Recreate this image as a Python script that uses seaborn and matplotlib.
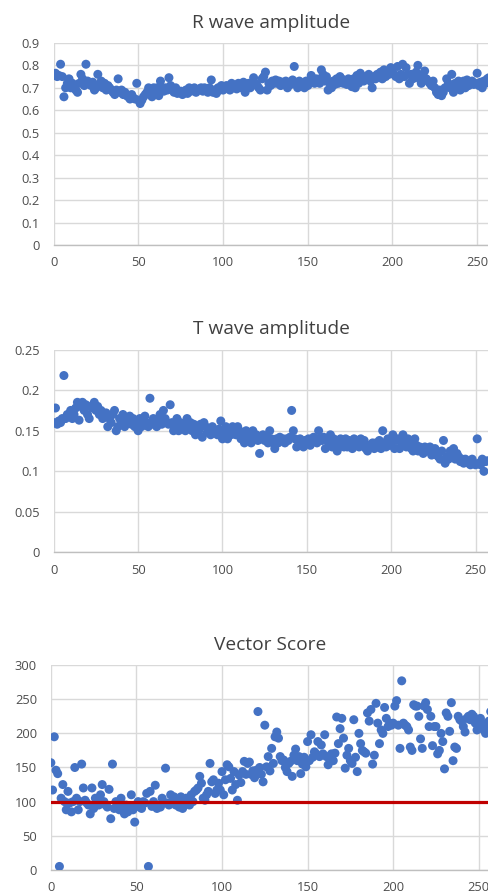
import seaborn as sns
import matplotlib.pyplot as plt
import matplotlib.ticker as mticker
import pandas as pd
import numpy as np

# Broj otkucaja (x os)
beats = np.arange(0, 258)

# R wave amplitude
r_wave = [
    0.76, 0.765, 0.75, 0.755, 0.805, 0.75, 0.66, 0.70, 0.72, 0.74,
    0.70, 0.72, 0.71, 0.69, 0.68, 0.72, 0.76, 0.74, 0.71, 0.805,
    0.73, 0.72, 0.71, 0.725, 0.69, 0.70, 0.76, 0.71, 0.73, 0.70,
    0.72, 0.69, 0.71, 0.70, 0.69, 0.68, 0.67, 0.69, 0.74, 0.68,
    0.69, 0.67, 0.68, 0.665, 0.66, 0.65, 0.67, 0.655, 0.65, 0.72,
    0.645, 0.63, 0.645, 0.66, 0.67, 0.68, 0.70, 0.69, 0.66, 0.70,
    0.68, 0.70, 0.665, 0.73, 0.70, 0.685, 0.70, 0.69, 0.745, 0.71,
    0.69, 0.68, 0.70, 0.675, 0.68, 0.685, 0.67, 0.68, 0.69, 0.675,
    0.70, 0.685, 0.69, 0.70, 0.68, 0.69, 0.695, 0.70, 0.685, 0.70,
    0.69, 0.68, 0.70, 0.735, 0.68, 0.69, 0.675, 0.70, 0.69, 0.71,
    0.69, 0.70, 0.71, 0.705, 0.69, 0.72, 0.70, 0.71, 0.695, 0.72,
    0.71, 0.70, 0.725, 0.68, 0.71, 0.72, 0.70, 0.715, 0.745, 0.72,
    0.71, 0.70, 0.69, 0.74, 0.75, 0.77, 0.69, 0.72, 0.71, 0.73,
    0.72, 0.735, 0.72, 0.73, 0.71, 0.725, 0.72, 0.73, 0.70, 0.72,
    0.715, 0.735, 0.795, 0.72, 0.70, 0.73, 0.71, 0.72, 0.70, 0.73,
    0.71, 0.72, 0.755, 0.73, 0.72, 0.74, 0.735, 0.72, 0.78, 0.76,
    0.73, 0.75, 0.69, 0.72, 0.70, 0.73, 0.715, 0.74, 0.72, 0.75,
    0.74, 0.72, 0.73, 0.715, 0.74, 0.72, 0.705, 0.74, 0.70, 0.755,
    0.72, 0.765, 0.74, 0.73, 0.75, 0.74, 0.76, 0.73, 0.70, 0.75,
    0.74, 0.76, 0.75, 0.77, 0.74, 0.78, 0.75, 0.765, 0.76, 0.79,
    0.77, 0.76, 0.75, 0.795, 0.74, 0.76, 0.805, 0.75, 0.79, 0.76,
    0.72, 0.76, 0.74, 0.75, 0.77, 0.80, 0.74, 0.72, 0.76, 0.775,
    0.74, 0.73, 0.72, 0.71, 0.73, 0.70, 0.68, 0.67, 0.69, 0.665,
    0.68, 0.70, 0.74, 0.72, 0.70, 0.76, 0.68, 0.72, 0.70, 0.73,
    0.69, 0.72, 0.73, 0.70, 0.735, 0.71, 0.72, 0.73, 0.715, 0.72,
    0.765, 0.71, 0.725, 0.70, 0.73, 0.72, 0.74, 0.745,
]

# T wave amplitude
t_wave = [
    0.16, 0.178, 0.158, 0.162, 0.16, 0.165, 0.218, 0.165, 0.17, 0.168,
    0.175, 0.165, 0.17, 0.178, 0.185, 0.163, 0.18, 0.185, 0.175, 0.182,
    0.17, 0.165, 0.18, 0.178, 0.185, 0.175, 0.18, 0.17, 0.175, 0.165,
    0.168, 0.172, 0.155, 0.165, 0.16, 0.17, 0.175, 0.15, 0.155, 0.165,
    0.16, 0.17, 0.155, 0.165, 0.16, 0.168, 0.158, 0.165, 0.155, 0.162,
    0.15, 0.165, 0.155, 0.16, 0.168, 0.16, 0.155, 0.19, 0.158, 0.165,
    0.16, 0.155, 0.162, 0.17, 0.158, 0.175, 0.165, 0.16, 0.158, 0.182,
    0.16, 0.15, 0.155, 0.165, 0.15, 0.16, 0.155, 0.158, 0.15, 0.165,
    0.155, 0.16, 0.15, 0.158, 0.145, 0.155, 0.15, 0.158, 0.142, 0.16,
    0.155, 0.148, 0.152, 0.145, 0.155, 0.148, 0.15, 0.145, 0.152, 0.162,
    0.14, 0.148, 0.155, 0.14, 0.15, 0.145, 0.155, 0.15, 0.145, 0.155,
    0.15, 0.14, 0.145, 0.135, 0.15, 0.14, 0.145, 0.135, 0.15, 0.14,
    0.145, 0.138, 0.122, 0.14, 0.145, 0.138, 0.142, 0.135, 0.15, 0.14,
    0.135, 0.128, 0.14, 0.135, 0.142, 0.138, 0.14, 0.135, 0.14, 0.138,
    0.142, 0.175, 0.15, 0.14, 0.13, 0.138, 0.14, 0.135, 0.13, 0.138,
    0.135, 0.14, 0.132, 0.138, 0.142, 0.14, 0.135, 0.15, 0.14, 0.138,
    0.142, 0.128, 0.14, 0.135, 0.145, 0.13, 0.14, 0.135, 0.125, 0.13,
    0.14, 0.135, 0.13, 0.14, 0.13, 0.138, 0.135, 0.128, 0.14, 0.135,
    0.138, 0.13, 0.14, 0.135, 0.138, 0.128, 0.125, 0.132, 0.13, 0.135,
    0.128, 0.135, 0.13, 0.138, 0.128, 0.15, 0.135, 0.13, 0.14, 0.132,
    0.135, 0.145, 0.128, 0.138, 0.14, 0.128, 0.135, 0.145, 0.138, 0.13,
    0.14, 0.135, 0.128, 0.125, 0.14, 0.132, 0.125, 0.13, 0.128, 0.122,
    0.13, 0.128, 0.125, 0.13, 0.12, 0.125, 0.128, 0.12, 0.118, 0.115,
    0.125, 0.138, 0.11, 0.118, 0.115, 0.125, 0.12, 0.128, 0.115, 0.122,
    0.118, 0.112, 0.115, 0.11, 0.115, 0.112, 0.11, 0.108, 0.115, 0.11,
    0.108, 0.14, 0.11, 0.108, 0.115, 0.10, 0.112, 0.113,
]

# Vector score
vector_score = [
    157, 117, 195, 146, 141, 5, 105, 125, 100, 88,
    115, 98, 85, 100, 150, 105, 88, 100, 155, 120,
    102, 98, 95, 82, 120, 90, 105, 100, 95, 110,
    125, 100, 95, 92, 118, 75, 155, 90, 100, 95,
    88, 105, 90, 82, 95, 85, 92, 110, 88, 70,
    95, 100, 92, 90, 100, 98, 112, 5, 115, 93,
    100, 124, 90, 95, 92, 105, 98, 149, 98, 95,
    110, 100, 107, 95, 98, 92, 107, 90, 100, 105,
    102, 95, 110, 100, 115, 117, 120, 137, 127, 105,
    102, 110, 115, 156, 129, 132, 112, 117, 127, 117,
    144, 110, 132, 154, 151, 134, 117, 144, 125, 102,
    139, 128, 144, 159, 140, 156, 158, 140, 145, 135,
    146, 232, 150, 140, 129, 212, 151, 166, 145, 178,
    156, 195, 202, 193, 166, 160, 161, 150, 144, 156,
    159, 137, 168, 177, 160, 166, 141, 155, 165, 151,
    188, 160, 198, 165, 173, 170, 188, 166, 183, 170,
    198, 166, 154, 166, 170, 160, 171, 224, 185, 207,
    222, 193, 149, 168, 178, 160, 156, 220, 165, 144,
    200, 185, 175, 173, 171, 230, 218, 235, 155, 168,
    244, 215, 185, 205, 200, 238, 222, 210, 215, 212,
    215, 240, 248, 212, 178, 277, 215, 212, 210, 205,
    180, 175, 242, 240, 240, 225, 192, 178, 240, 245,
    235, 210, 225, 182, 210, 210, 170, 175, 200, 188,
    148, 230, 225, 203, 245, 160, 180, 178, 225, 220,
    218, 210, 202, 222, 225, 220, 228, 225, 215, 205,
    210, 222, 215, 205, 200, 210, 218, 232,
]

# Granična vrijednost (crvena linija)
threshold = 100

titles = ["R wave amplitude", "T wave amplitude", "Vector Score"]
y_ticks = [np.arange(0, 0.91, 0.1), np.arange(0, 0.251, 0.05), np.arange(0, 301, 50)]
x_limits = [257, 258, 256]

df = pd.DataFrame({
    "Beat": beats,
    "R": r_wave,
    "T": t_wave,
    "Vector": vector_score,
})

sns.set_theme(style="white")
plt.rcParams["font.family"] = ["Open Sans", "DejaVu Sans"]

fig = plt.figure(figsize=(4.89, 8.94), dpi=100)
positions = [
    [0.110, 0.726, 0.890, 0.226],
    [0.110, 0.382, 0.890, 0.227],
    [0.104, 0.027, 0.896, 0.229],
]
columns = ["R", "T", "Vector"]

blue = "#4472C4"
tick_color = "#4d4d4d"
grid_color = "#d9d9d9"

for pos, col, title, yt, xmax in zip(positions, columns, titles, y_ticks, x_limits):
    ax = fig.add_axes(pos)
    sns.scatterplot(data=df, x="Beat", y=col, ax=ax, color=blue,
                    s=42, edgecolor="none", linewidth=0, zorder=3)
    if col == "Vector":
        ax.axhline(threshold, color="#C00000", linewidth=2.3, zorder=4)
    ax.set_xlim(0, xmax)
    ax.set_ylim(yt[0], yt[-1])
    ax.set_yticks(yt)
    ax.set_xticks(np.arange(0, 251, 50))
    ax.yaxis.set_major_formatter(mticker.FuncFormatter(lambda v, p: f"{round(v, 3):g}"))
    ax.grid(True, color=grid_color, linewidth=1.0, zorder=0)
    for side in ["top", "right", "left"]:
        ax.spines[side].set_visible(False)
    ax.spines["bottom"].set_color("#bfbfbf")
    ax.spines["bottom"].set_linewidth(1.0)
    ax.tick_params(axis="both", length=0, labelsize=9.3, colors=tick_color)
    ax.tick_params(axis="y", pad=10)
    ax.tick_params(axis="x", pad=8)
    ax.set_xlabel("")
    ax.set_ylabel("")
    ax.set_title(title, fontsize=13.8, color="#404040", pad=11)

fig.savefig("out.png", dpi=100)
